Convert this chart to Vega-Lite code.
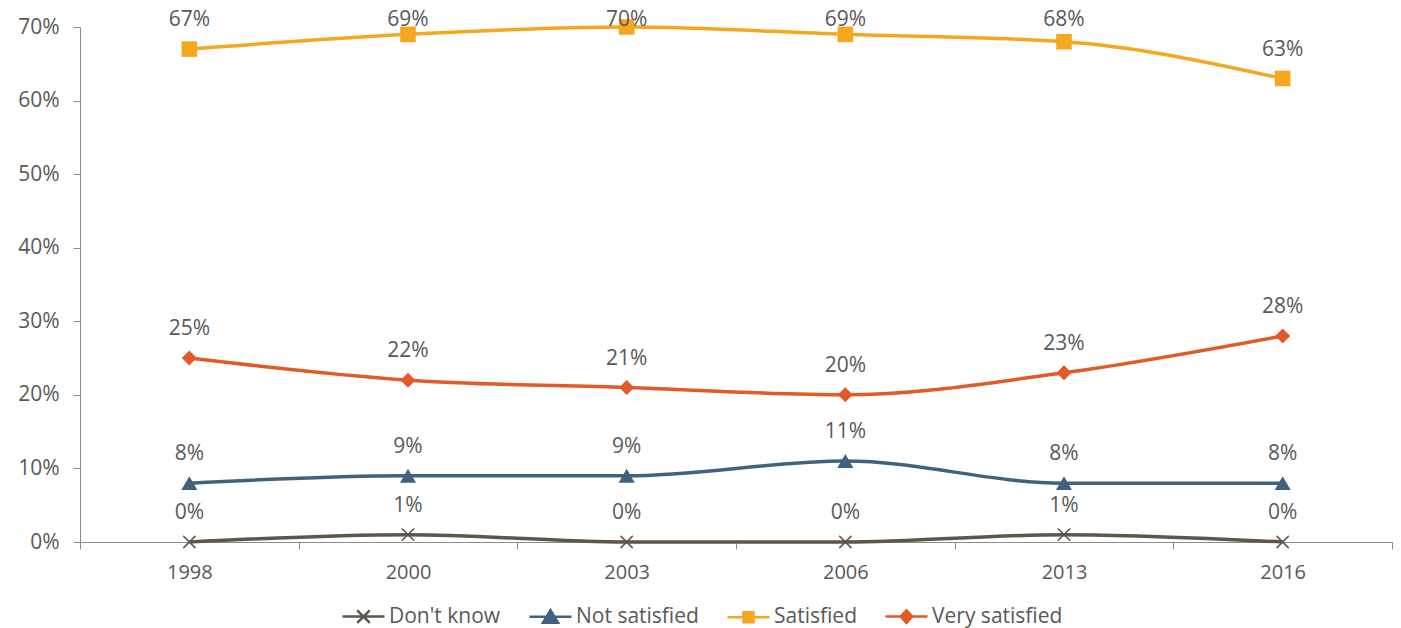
{
  "$schema": "https://vega.github.io/schema/vega-lite/v6.json",
  "width": 1312,
  "height": 515,
  "autosize": {"type": "none"},
  "padding": {"left": 80, "top": 27, "right": 9, "bottom": 86},
  "background": "white",
  "config": {"view": {"stroke": null}, "font": "Open Sans"},
  "data": {
    "values": [
      {"year": "1998", "series": "Don't know", "value": 0.00},
      {"year": "2000", "series": "Don't know", "value": 0.01},
      {"year": "2003", "series": "Don't know", "value": 0.00},
      {"year": "2006", "series": "Don't know", "value": 0.00},
      {"year": "2013", "series": "Don't know", "value": 0.01},
      {"year": "2016", "series": "Don't know", "value": 0.00},
      {"year": "1998", "series": "Not satisfied", "value": 0.08},
      {"year": "2000", "series": "Not satisfied", "value": 0.09},
      {"year": "2003", "series": "Not satisfied", "value": 0.09},
      {"year": "2006", "series": "Not satisfied", "value": 0.11},
      {"year": "2013", "series": "Not satisfied", "value": 0.08},
      {"year": "2016", "series": "Not satisfied", "value": 0.08},
      {"year": "1998", "series": "Satisfied", "value": 0.67},
      {"year": "2000", "series": "Satisfied", "value": 0.69},
      {"year": "2003", "series": "Satisfied", "value": 0.70},
      {"year": "2006", "series": "Satisfied", "value": 0.69},
      {"year": "2013", "series": "Satisfied", "value": 0.68},
      {"year": "2016", "series": "Satisfied", "value": 0.63},
      {"year": "1998", "series": "Very satisfied", "value": 0.25},
      {"year": "2000", "series": "Very satisfied", "value": 0.22},
      {"year": "2003", "series": "Very satisfied", "value": 0.21},
      {"year": "2006", "series": "Very satisfied", "value": 0.20},
      {"year": "2013", "series": "Very satisfied", "value": 0.23},
      {"year": "2016", "series": "Very satisfied", "value": 0.28}
    ]
  },
  "encoding": {
    "x": {
      "field": "year",
      "type": "ordinal",
      "sort": null,
      "scale": {"type": "band", "paddingInner": 0, "paddingOuter": 0},
      "axis": {
        "title": null,
        "labelAngle": 0,
        "tickBand": "extent",
        "tickSize": 7,
        "tickColor": "#8c8c8c",
        "domainColor": "#8c8c8c",
        "labelFontSize": 20,
        "labelColor": "#595959",
        "labelPadding": 13
      }
    },
    "y": {
      "field": "value",
      "type": "quantitative",
      "scale": {"domain": [0, 0.7]},
      "axis": {
        "title": null,
        "values": [0, 0.1, 0.2, 0.3, 0.4, 0.5, 0.6, 0.7],
        "format": ".0%",
        "grid": false,
        "tickSize": 7,
        "tickColor": "#8c8c8c",
        "domainColor": "#8c8c8c",
        "labelFontSize": 21,
        "labelColor": "#595959",
        "labelPadding": 14
      }
    },
    "color": {
      "field": "series",
      "type": "nominal",
      "scale": {
        "domain": ["Don't know", "Not satisfied", "Satisfied", "Very satisfied"],
        "range": ["#5e554c", "#41627f", "#f4a81f", "#e25a27"]
      },
      "legend": {
        "orient": "none",
        "legendX": 261,
        "legendY": 567,
        "direction": "horizontal",
        "title": null,
        "symbolSize": 1764,
        "symbolStrokeWidth": 2.5,
        "labelFontSize": 21,
        "labelColor": "#595959",
        "labelOffset": 3,
        "columnPadding": 23,
        "padding": 0,
        "encode": {
          "symbols": {
            "update": {
              "shape": {"signal": "datum.value == 'Satisfied' ? 'M-1,0H1M-0.24,-0.24H0.24V0.24H-0.24Z' : datum.value == 'Very satisfied' ? 'M-1,0H1M0,-0.3L0.28,0L0,0.3L-0.28,0Z' : datum.value == 'Not satisfied' ? 'M-1,0H1M0,-0.32L0.36,0.28L-0.36,0.28Z' : 'M-1,0H1M-0.3,-0.3L0.3,0.3M0.3,-0.3L-0.3,0.3'"},
              "fill": {"signal": "scale('color', datum.value)"},
              "stroke": {"signal": "scale('color', datum.value)"},
              "strokeWidth": {"value": 2.5},
              "opacity": {"value": 1}
            }
          }
        }
      }
    }
  },
  "layer": [
    {"mark": {"type": "line", "interpolate": "monotone", "strokeWidth": 3.5}},
    {
      "transform": [{"filter": "datum.series != \"Don't know\""}],
      "mark": {"type": "point", "filled": true, "opacity": 1},
      "encoding": {
        "shape": {
          "field": "series",
          "type": "nominal",
          "scale": {
            "domain": ["Not satisfied", "Satisfied", "Very satisfied"],
            "range": ["triangle-up", "square", "diamond"]
          },
          "legend": null
        },
        "size": {
          "field": "series",
          "type": "nominal",
          "scale": {
            "domain": ["Not satisfied", "Satisfied", "Very satisfied"],
            "range": [260, 225, 340]
          },
          "legend": null
        }
      }
    },
    {
      "transform": [{"filter": "datum.series == \"Don't know\""}],
      "mark": {"type": "point", "filled": false, "opacity": 1, "shape": "M-1,-1L1,1M1,-1L-1,1", "size": 150, "strokeWidth": 1.5}
    },
    {
      "transform": [{"calculate": "min(datum.value, 0.67)", "as": "labelPos"}],
      "mark": {"type": "text", "dy": -29, "fontSize": 21, "baseline": "middle"},
      "encoding": {
        "y": {"field": "labelPos", "type": "quantitative"},
        "text": {"field": "value", "type": "quantitative", "format": ".0%"},
        "color": {"value": "#595959"}
      }
    }
  ]
}
